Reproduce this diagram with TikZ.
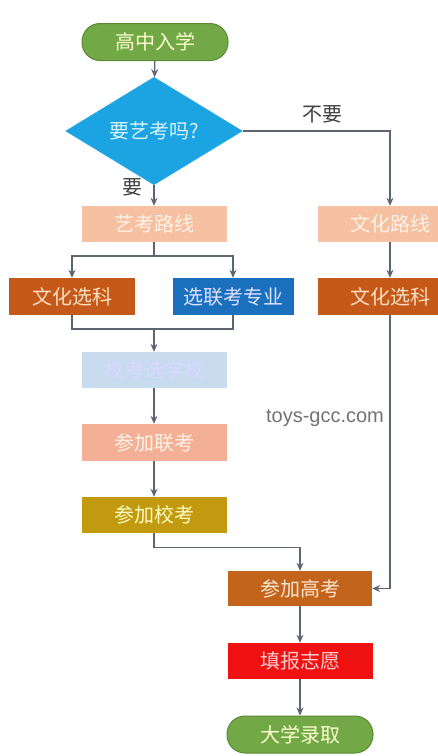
\documentclass[tikz,border=0pt]{standalone}
\usepackage{fontspec}
\usepackage{xcolor}
\usepackage{tikz}
\usetikzlibrary{shapes,arrows,arrows.meta,positioning,calc}
\setmainfont{Noto Sans CJK SC}
\newfontfamily\markfont{Liberation Sans}
\definecolor{startgreen}{HTML}{72A846}
\definecolor{startborder}{HTML}{5A8A36}
\definecolor{askblue}{HTML}{1BA4E1}
\definecolor{palesalmon}{HTML}{F6C1A2}
\definecolor{salmon}{HTML}{F4B096}
\definecolor{rustorange}{HTML}{C5591A}
\definecolor{majorblue}{HTML}{1B70BE}
\definecolor{paleblue}{HTML}{C8DBEF}
\definecolor{goldbox}{HTML}{C19A10}
\definecolor{examorange}{HTML}{C2641C}
\definecolor{wishred}{HTML}{F01212}
\definecolor{linegray}{HTML}{5E6472}

\begin{document}
\begin{tikzpicture}[
    x=1pt, y=-1pt,
    pill/.style={rectangle, rounded corners=18pt, draw=startborder, fill=startgreen, text=green!10!yellow!20,
                 minimum width=146pt, minimum height=37pt, font=\fontsize{20}{22}\selectfont, line width=1pt},
    ask/.style={diamond, draw=askblue!80!white, fill=askblue, text=white!85!cyan, inner sep=0pt,
                minimum width=177pt, minimum height=82pt, font=\fontsize{20}{22}\selectfont},
    box/.style={rectangle, minimum width=145pt, minimum height=36pt, font=\fontsize{20}{22}\selectfont},
    flow/.style={draw=linegray, line width=1.2pt, -{Stealth[length=8pt, width=7pt]}},
    link/.style={draw=linegray, line width=1.2pt}
]
    \useasboundingbox (0,0) rectangle (437,756);
    \fill[white] (0,0) rectangle (437,756);

    % Start and decision
    \node[pill] (enter) at (155,42) {高中入学};
    \node[ask] (artq) at (154,131) {要艺考吗?};
    \node[font=\fontsize{20}{22}\selectfont, text=black!75] (nolbl) at (322,114) {不要};
    \node[font=\fontsize{20}{22}\selectfont, text=black!75] (yeslbl) at (132,187) {要};

    % Art route
    \node[box, fill=palesalmon, text=white!90!orange] (artroute) at (154,224) {艺考路线};
    \node[box, fill=rustorange, text=orange!25!white, minimum width=126pt, minimum height=37pt] (culsel) at (72,296.5) {文化选科};
    \node[box, fill=majorblue, text=white!88!blue, minimum width=121pt, minimum height=37pt] (major) at (233,296.5) {选联考专业};
    \node[box, fill=paleblue, text=white!85!blue] (school) at (154,370) {校考选学校};
    \node[box, fill=salmon, text=white!90!orange, minimum height=37pt] (joint) at (154,442.5) {参加联考};
    \node[box, fill=goldbox, text=yellow!25!white] (schoolexam) at (154,515) {参加校考};

    % Culture route
    \node[box, fill=palesalmon, text=white!90!orange] (culroute) at (390,224) {文化路线};
    \node[box, fill=rustorange, text=orange!25!white, minimum height=37pt] (culsel2) at (390,296.5) {文化选科};

    % Final steps
    \node[box, fill=examorange, text=orange!20!white, minimum width=144pt, minimum height=35pt] (gaokao) at (300,588.5) {参加高考};
    \node[box, fill=wishred, text=red!20!white] (wish) at (300,661) {填报志愿};
    \node[pill] (admit) at (300,734.5) {大学录取};

    % Watermark
    \node[font=\markfont\fontsize{20}{22}\selectfont, text=black!55] (mark) at (325,418) {toys-gcc.com};

    % Connectors
    \path[flow] (enter) -- (artq);
    \path[flow] (artq) -- (artroute);
    \path[flow] (artq.east) -| (culroute.north);
    \coordinate (split) at (154,256);
    \path[link] (artroute) -- (split);
    \path[flow] (split) -| (culsel.north);
    \path[flow] (split) -| (major.north);
    \coordinate (merge) at (154,329);
    \path[link] (culsel.south) |- (merge);
    \path[link] (major.south) |- (merge);
    \path[flow] (merge) -- (school);
    \path[flow] (school) -- (joint);
    \path[flow] (joint) -- (schoolexam);
    \path[flow] (schoolexam.south) |- ($(gaokao.north)+(0,-23)$) -- (gaokao.north);
    \path[flow] (culroute) -- (culsel2);
    \path[flow] (culsel2.south) |- (gaokao.east);
    \path[flow] (gaokao) -- (wish);
    \path[flow] (wish) -- (admit);
\end{tikzpicture}
\end{document}
